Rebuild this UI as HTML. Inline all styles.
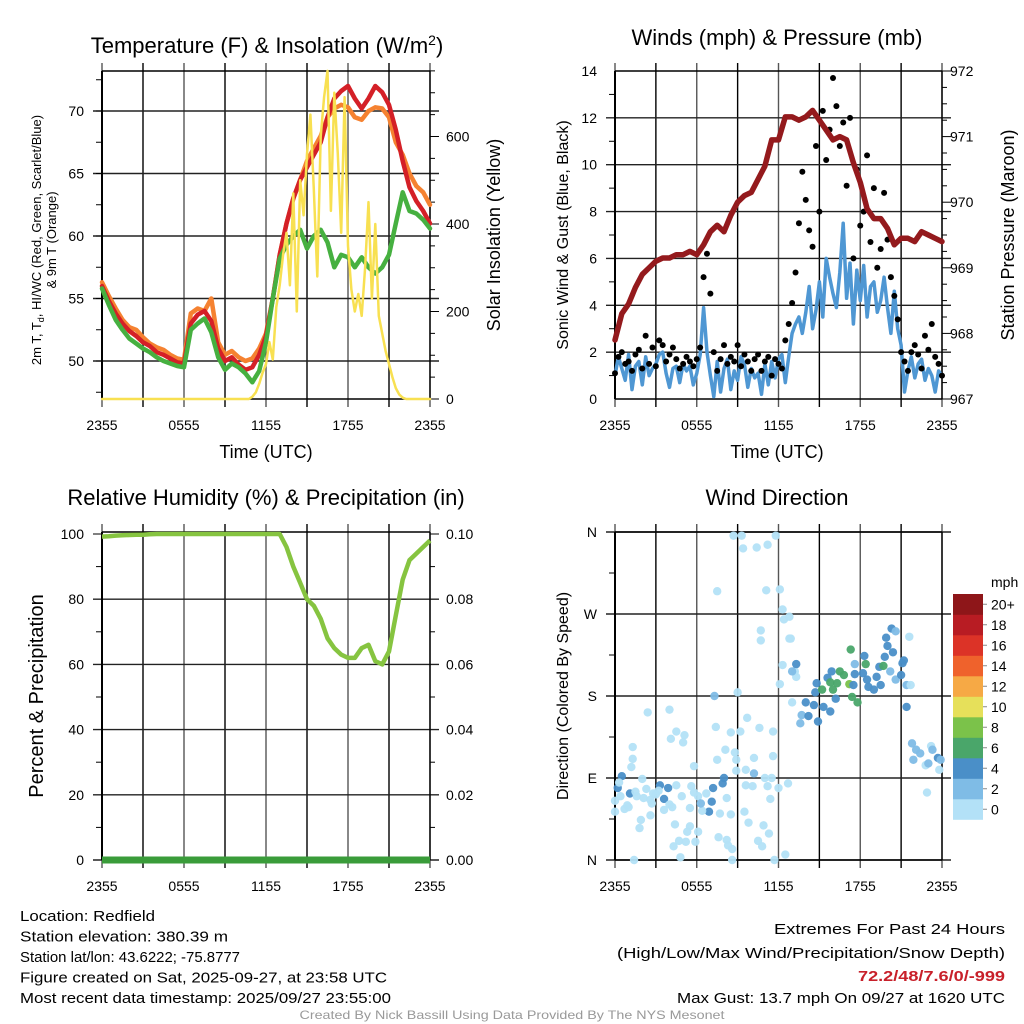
<!DOCTYPE html>
<html><head><meta charset="utf-8"><style>
body{margin:0;background:#fff}
svg{display:block;font-family:"Liberation Sans",sans-serif}
</style></head><body>
<svg id="c" width="1024" height="1024" xmlns="http://www.w3.org/2000/svg">
<rect width="1024" height="1024" fill="#fff"/>
<g id="g"></g>
</svg>
<script>
// ---- data (time step implied by array length over 24h) ----
const xTickLabels = ["2355","0555","1155","1755","2355"];
const tempTicks = [50,55,60,65,70];
const solarTicks = [0,200,400,600];
const windTicks = [0,2,4,6,8,10,12,14];
const presTicks = [967,968,969,970,971,972];
const rhTicks = [0,20,40,60,80,100];
const precipTicks = ["0.00","0.02","0.04","0.06","0.08","0.10"];
const dirTicks = ["N","E","S","W","N"];
const cbLabels = ["0","2","4","6","8","10","12","14","16","18","20+"];
const cbColors = ["#b3e1f7","#7fbce6","#4a8fc8","#4aa66a","#7bc24a","#e6e05a","#f6a945","#ef622c","#dc3327","#b81c23","#8e1619"];

const tempRed = [56,54.8,53.8,53,52.4,52,51.5,51.2,50.7,50.5,50.2,49.9,49.8,53,53.7,54,53.2,51,50,50.3,49.7,49.3,49.5,50.5,52,55,58.5,61,63,64.5,65.5,66.5,67.5,69.5,71,71.6,72,71,70.2,71,72,71.5,70.5,68.5,66,63.9,62.8,62,61];
const tempOrange = [56.3,55.2,54.2,53.3,52.7,52.5,51.9,51.4,51.1,50.9,50.5,50.2,50.1,53.8,54.2,54,55,51.5,50.5,50.8,50.3,50,50.2,51,52.2,55,58.5,61,63,64.5,66,67,68,69.5,70.2,70.5,70.3,69.5,69.3,70,70.3,70.2,69.5,67.5,66.5,65,64,63.5,62.5];
const tempGreen = [55.8,54.5,53.3,52.5,51.8,51.4,51,50.7,50.3,50,49.8,49.6,49.5,52.5,53,53.4,52.3,50.3,49.3,49.8,49.5,49,48.3,49.2,51.5,55,58.2,59.3,60,60.5,59,60,60.5,59.5,57.5,58.5,58.3,57.5,58.3,57.5,57,57.5,58.5,61,63.5,62,61.8,61.3,60.6];
const solar = [0,0,0,0,0,0,0,0,0,0,0,0,0,0,0,0,0,0,0,0,0,0,0,0,0,0,0,0,0,0,0,0,0,0,0,0,0,0,0,0,0,0,0,0,
 5,15,35,60,80,130,90,210,260,330,380,260,470,200,500,420,560,650,480,280,600,690,750,430,700,560,380,690,350,250,200,240,190,300,450,230,400,190,150,110,80,50,25,10,3,
 0,0,0,0,0,0,0,0];
const windSust = [1.0,1.8,1.3,0.8,1.9,0.4,1.4,1.6,0.6,1.8,1.0,1.3,1.5,
 1.9,2.0,1.1,0.5,1.3,1.4,0.7,1.5,1.2,1.4,0.6,
 1.1,1.9,3.9,2.0,1.0,0.1,1.6,0.3,1.3,1.7,0.4,1.2,
 0.8,1.8,1.5,0.5,1.3,0.9,1.1,0.2,1.5,0.6,1.6,0.9,
 1.7,1.9,0.7,1.8,2.8,3.2,3.5,2.8,3.7,4.8,3.0,3.8,
 5.0,3.5,6.0,5.2,4.5,3.9,5.4,7.5,4.3,5.8,3.2,5.5,
 4.2,5.7,3.5,4.8,5.0,3.7,4.2,5.2,3.9,2.8,4.6,3.0,
 2.3,0.3,1.2,1.8,0.9,1.5,1.7,0.8,1.3,1.0,0.3,1.2,1.0];
const windGust = [1.1,1.8,2.0,1.5,1.6,1.2,1.9,2.1,1.3,2.7,1.5,2.2,1.4,
 2.5,2.3,1.6,1.9,2.2,1.7,1.3,1.5,1.8,1.6,1.4,
 1.7,2.2,5.2,6.2,4.5,2.0,1.2,1.7,2.3,1.5,1.8,1.6,
 2.3,1.4,1.9,1.6,1.2,1.7,1.9,1.2,1.6,1.8,1.0,1.7,
 1.5,1.3,2.5,3.2,4.1,5.4,7.5,9.7,8.5,7.2,6.5,10.8,
 8.0,12.3,10.2,11.5,13.7,12.5,10.8,11.8,9.1,12.0,6.0,9.8,
 7.4,8.0,10.4,6.7,9.0,5.6,6.4,8.8,6.8,5.2,4.4,3.4,
 2.0,1.6,1.2,2.0,2.3,1.9,1.3,2.7,2.1,3.2,1.8,1.5,1.0];
const pressure = [967.9,968.3,968.45,968.7,968.9,969.0,969.1,969.15,969.15,969.2,969.2,969.25,969.2,969.35,969.55,969.65,969.55,969.8,970.0,970.1,970.15,970.35,970.55,970.95,970.95,971.3,971.3,971.25,971.3,971.4,971.25,971.1,970.95,971.0,970.95,970.6,970.3,969.9,969.75,969.75,969.6,969.35,969.45,969.45,969.4,969.55,969.5,969.45,969.4];
const rh = [99.2,99.3,99.5,99.6,99.7,99.8,99.8,99.9,100,100,100,100,100,100,100,100,100,100,100,100,100,100,100,100,100,100,100,96,90,85,80,78,74,68,65,63,62,62,65,66,61,60,64,75,86,92,94,96,98];
const precip = [0,0,0,0,0,0,0,0,0,0,0,0,0,0,0,0,0,0,0,0,0,0,0,0,0];
const dirHours = [
 8.7,9.3,11.8,9.4,10.4,11.2,7.5,11.1,12.1,12.3,
 12.4,12.8,10.7,10.7,12.8,12.9,12.3,13.2,13.3,12.1,
 9,7.3,13,2.4,4,4.5,5.1,4.1,5,7.4,
 8.5,9.2,9.7,10.6,11.6,1.3,1.3,1.2,8.1,8.8,
 7.5,8.9,10.2,11.6,5.8,8.9,9.6,10.2,11,11.5,
 12.7,9.6,10.1,11.2,12,11.4,8,7.9,0.5,0.2,
 1.1,3.3,3.9,3.6,7.1,6.9,7.2,0,0,0.4,
 0.7,1.6,2,2.3,2.7,2.6,1.9,1.8,2.8,3.6,
 4.2,4.5,4.9,5.5,5.6,6.1,6.4,6.7,7.7,8.2,
 8.5,9.5,9.8,10.9,11.3,4.4,5.5,6.1,5.3,4.7,
 4.3,5.2,5.9,7.6,8.2,8.3,8.6,10.5,10.8,4.8,
 1.4,8.6,11.7,12.5,13.3,14,13.7,13.6,14.2,14.6,
 14.9,14.7,14.8,15.3,15.8,15.6,15.9,16.2,16.3,16,
 15.8,15.2,16.5,16.8,17.2,17.3,17.4,17.8,17.5,17.6,
 18.3,18.4,18.2,18.5,18.6,19,19.4,19.2,19.5,19.7,
 19.8,19.9,20,20.3,20.4,20.6,20.2,20.6,21,21.1,
 21.2,21.4,21.6,21.7,21.4,17.6,13,21.8,22.1,22.4,
 21.9,22.8,23.2,23.3,23.7,23.9,23.8,23,22.9,0.9,
 1.5,2.1,3.0,0.3,1.0,2.6,3.2,6.3,5.8,4.0];
const dirDegs = [
 356,356,356,342,343,346,295,296,297,275,
 264,267,252,241,243,243,214,207,201,193,
 184,180,173,162,165,141,137,133,129,146,
 140,141,156,145,141,124,111,102,121,118,
 110,110,112,114,103,98,99,95,90,90,
 84,82,81,81,79,67,90,84,92,79,
 73,82,79,67,64,53,79,65,53,70,
 56,70,89,78,62,49,44,35,73,55,
 58,82,70,57,81,70,54,73,51,68,
 50,53,41,38,29,39,37,31,31,21,
 15,20,20,25,22,16,12,21,15,3,
 0,0,0,6,215,173,159,150,158,170,
 152,184,194,168,163,200,207,177,194,187,
 195,187,207,203,193,231,179,173,192,204,
 224,215,205,198,190,187,212,201,192,213,
 223,244,235,254,228,251,207,198,203,216,
 219,192,245,192,168,215,207,128,121,117,
 110,104,125,121,112,110,99,106,74,60,
 75,68,72,85,58,66,76,62,74,61];
const dirSpeeds = [
 1,1,1,1,1,1,1,1,1,1,
 1,1,1,1,1,1,1,1,1,1,
 1,3,1,1,1,1,1,1,1,1,
 1,1,1,1,1,1,1,1,1,1,
 1,1,1,1,1,1,1,3,1,1,
 1,1,1,1,1,1,4.5,4.5,4.5,4.5,
 4.5,4.5,4.5,4.5,4.5,4.5,4.5,1,1,1,
 1,1,1,1,1,1,1,1,1,1,
 1,1,1,1,1,1,1,1,1,1,
 1,1,1,1,1,1,1,1,1,1,
 1,1,1,1,1,1,1,1,1,1,
 1,1,1,1,4.5,4.5,2.5,2.5,4.5,4.5,
 4.5,4.5,4.5,4.5,4.5,4.5,4.5,4.5,6.5,6.5,
 6.5,6.5,6.5,6.5,8.5,6.5,6.5,6.5,4.5,4.5,
 4.5,6.5,4.5,4.5,4.5,4.5,4.5,4.5,4.5,6.5,
 4.5,4.5,4.5,4.5,4.5,2.5,2.5,2.5,4.5,4.5,
 4.5,2.5,1,1,4.5,2.5,2.5,2.5,2.5,2.5,
 2.5,1,1,2.5,4.5,2.5,1,2.5,1,1,
 1,1,1,1,1,1,1,2.5,1,1];

// ---- drawing ----
const NS="http://www.w3.org/2000/svg";
const G=document.getElementById('g');
function el(tag,attrs,parent,text){const e=document.createElementNS(NS,tag);for(const k in attrs)e.setAttribute(k,attrs[k]);if(text!==undefined)e.textContent=text;(parent||G).appendChild(e);return e;}
function lin(d0,d1,r0,r1){return v=>r0+(v-d0)/(d1-d0)*(r1-r0);}
function pathFrom(arr,xs,ys){const n=arr.length;let d="";arr.forEach((v,i)=>{d+=(i?"L":"M")+xs(i*24/(n-1)).toFixed(1)+","+ys(v).toFixed(1);});return d;}

const panels={
 temp:{x0:102,x1:430,y0:71,y1:399},
 wind:{x0:615,x1:942,y0:71,y1:399},
 rh:{x0:102,x1:430,y0:532,y1:860},
 dir:{x0:615,x1:942,y0:532,y1:860}
};
function frame(p,name,hTicksY){
 const g=el('g',{},G);
 
 
 for(let i=0;i<=8;i++){const x=p.x0+(p.x1-p.x0)*i/8;el('line',{x1:x,x2:x,y1:p.y0-8,y2:p.y1+8,stroke:i%2?'#000':'#555','stroke-width':1.4},g);}
 hTicksY.forEach(y=>el('line',{x1:p.x0-9,x2:p.x1+9,y1:y,y2:y,stroke:'#222','stroke-width':1.4},g));
 el('line',{x1:p.x0,x2:p.x0,y1:p.y0,y2:p.y1,stroke:'#000','stroke-width':2},g);
 el('line',{x1:p.x1,x2:p.x1,y1:p.y0,y2:p.y1,stroke:'#000','stroke-width':1.4},g);
 el('line',{x1:p.x0,x2:p.x1,y1:p.y0,y2:p.y0,stroke:'#000','stroke-width':1.4},g);
 el('line',{x1:p.x0,x2:p.x1,y1:p.y1,y2:p.y1,stroke:'#000','stroke-width':1.4},g);
 const tl=el('g',{'font-size':14,'text-anchor':'middle'},G);
 
 
 xTickLabels.forEach((t,i)=>el('text',{x:p.x0+(p.x1-p.x0)*i/4,y:p.y1+31},tl,t));
}
function txt(x,y,s,size,name,extra){const t=el('text',Object.assign({x:x,y:y,'font-size':size,'text-anchor':'middle'},extra||{}),G,s);return t;}

// Panel 1
(function(){
 const p=panels.temp;const xs=lin(0,24,p.x0,p.x1);
 const yT=lin(50,70,361,111);const yS=lin(0,600,399,136.5);
 frame(p,'temp',tempTicks.map(yT));
 tempTicks.forEach(v=>txt(84,yT(v)+5,String(v),14,'temp-tick',{'text-anchor':'end'}));
 solarTicks.forEach(v=>txt(446,yS(v)+5,String(v),14,'solar-tick',{'text-anchor':'start'}));
 for(let v=47.5;v<73;v+=2.5){el('line',{x1:p.x0-6,x2:p.x0,y1:yT(v),y2:yT(v),stroke:'#000'});}
 for(let v=0;v<=750;v+=50){el('line',{x1:p.x1,x2:p.x1+(v%200?5:9),y1:yS(v),y2:yS(v),stroke:'#000'});}
 const add=(arr,ys,col,w,name)=>{const e=el('path',{d:pathFrom(arr,xs,ys),fill:'none',stroke:col,'stroke-width':w,'stroke-linejoin':'round','stroke-linecap':'round'});};
 add(tempOrange,yT,'#f58231',4.5,'temp-9m-line');
 add(tempRed,yT,'#d42027',4.5,'temp-2m-line');
 add(tempGreen,yT,'#46b040',4.5,'dewpoint-line');
 add(solar,yS,'#f8e051',2.5,'solar-line');
 const tt=txt(267,53,'Temperature (F) & Insolation (W/m',22,'temp-title');
 el('tspan',{dy:-8,'font-size':14},tt,'2');
 el('tspan',{dy:8},tt,')');
 txt(266,458,'Time (UTC)',18,'temp-x-title');
 txt(500,235,'Solar Insolation (Yellow)',18,'solar-y-title',{transform:'rotate(-90 500 235)'});
 const yl=el('text',{x:41,y:240,'font-size':13,'text-anchor':'middle',transform:'rotate(-90 41 240)'},G);
 
 el('tspan',{},yl,'2m T, T');el('tspan',{dy:3,'font-size':9},yl,'d');el('tspan',{dy:-3},yl,', HI/WC (Red, Green, Scarlet/Blue)');
 txt(56,240,'& 9m T (Orange)',13,'temp-y-title-2',{transform:'rotate(-90 56 240)'});
})();

// Panel 2
(function(){
 const p=panels.wind;const xs=lin(0,24,p.x0,p.x1);
 const yW=lin(0,14,399,71);const yP=lin(967,972,399,71);
 frame(p,'wind',windTicks.slice(1,7).map(yW));
 windTicks.forEach(v=>txt(597,yW(v)+5,String(v),14,'wind-tick',{'text-anchor':'end'}));
 presTicks.forEach(v=>txt(950,yP(v)+5,String(v),14,'pressure-tick',{'text-anchor':'start'}));
 for(let v=1;v<14;v+=2){el('line',{x1:p.x0-6,x2:p.x0,y1:yW(v),y2:yW(v),stroke:'#000'});}
 for(let v=967;v<=972.01;v+=0.25){el('line',{x1:p.x1,x2:p.x1+(Math.abs(v-Math.round(v))<0.01?9:5),y1:yP(v),y2:yP(v),stroke:'#000'});}
 const b=el('path',{d:pathFrom(windSust,xs,yW),fill:'none',stroke:'#4f97d3','stroke-width':3.5,'stroke-linejoin':'round'});
 
 const n=windGust.length;
 windGust.forEach((v,i)=>{const c=el('circle',{cx:xs(i*24/(n-1)),cy:yW(v),r:3,fill:'#000'});
  
  });
 const pr=el('path',{d:pathFrom(pressure,xs,yP),fill:'none',stroke:'#941a1d','stroke-width':5.5,'stroke-linejoin':'round','stroke-linecap':'round'});
 
 txt(777,45,'Winds (mph) & Pressure (mb)',22,'wind-title');
 txt(777,458,'Time (UTC)',18,'wind-x-title');
 txt(568,235,'Sonic Wind & Gust (Blue, Black)',16,'wind-y-title',{transform:'rotate(-90 568 235)'});
 txt(1014,235,'Station Pressure (Maroon)',18,'pressure-y-title',{transform:'rotate(-90 1014 235)'});
})();

// Panel 3
(function(){
 const p=panels.rh;const xs=lin(0,24,p.x0,p.x1);
 const yR=lin(0,100,860,534);const yPr=lin(0,0.1,860,534);
 frame(p,'rh',rhTicks.slice(0,5).map(yR));
 rhTicks.forEach(v=>txt(84,yR(v)+5,String(v),14,'rh-tick',{'text-anchor':'end'}));
 precipTicks.forEach((s,i)=>txt(446,yR(rhTicks[i])+5,s,14,'precip-tick',{'text-anchor':'start'}));
 for(let v=10;v<100;v+=20){el('line',{x1:p.x0-6,x2:p.x0,y1:yR(v),y2:yR(v),stroke:'#000'});el('line',{x1:p.x1,x2:p.x1+5,y1:yR(v),y2:yR(v),stroke:'#000'});}
 el('line',{x1:p.x0-9,x2:p.x0,y1:yR(100),y2:yR(100),stroke:'#000'});
 el('line',{x1:p.x1,x2:p.x1+9,y1:yR(100),y2:yR(100),stroke:'#000'});
 const r=el('path',{d:pathFrom(rh,xs,yR),fill:'none',stroke:'#86c440','stroke-width':4.5,'stroke-linejoin':'round'});
 
 const pc=el('path',{d:pathFrom(precip,xs,yPr),fill:'none',stroke:'#3a9c3a','stroke-width':7});
 
 txt(266,505,'Relative Humidity (%) & Precipitation (in)',22,'rh-title');
 txt(43,696,'Percent & Precipitation',20,'rh-y-title',{transform:'rotate(-90 43 696)'});
})();

// Panel 4
(function(){
 const p=panels.dir;const xs=lin(0,24,p.x0,p.x1);const yD=lin(0,360,860,532);
 frame(p,'dir',[0,90,180,270,360].map(yD));
 dirTicks.forEach((s,i)=>txt(597,yD(i*90)+5,s,14,'dir-tick',{'text-anchor':'end'}));
 for(let v=45;v<360;v+=90){el('line',{x1:p.x0-6,x2:p.x0,y1:yD(v),y2:yD(v),stroke:'#000'});}
 dirHours.forEach((h,i)=>{const sp=dirSpeeds[i]||0;const ci=Math.min(10,Math.floor(sp/2));
  const c=el('circle',{cx:xs(h),cy:yD(dirDegs[i]),r:4.2,fill:cbColors[ci],'fill-opacity':0.95});
  
  });
 txt(777,505,'Wind Direction',22,'dir-title');
 txt(568,696,'Direction (Colored By Speed)',16,'dir-y-title',{transform:'rotate(-90 568 696)'});
 const cb=el('g',{},G);
 const bh=20.5,top=594;
 cbColors.forEach((c,i)=>{const y=top+(10-i)*bh;el('rect',{x:953,y:y,width:30,height:bh+0.3,fill:c},cb);
  el('line',{x1:983,x2:987,y1:y+bh/2,y2:y+bh/2,stroke:'#888'},cb);
  el('text',{x:991,y:y+bh/2+5,'font-size':14},cb,cbLabels[i]);});
 el('text',{x:991,y:587,'font-size':14},cb,'mph');
})();

// Footer text
const L=["Location: Redfield","Station elevation: 380.39 m","Station lat/lon: 43.6222; -75.8777","Figure created on Sat, 2025-09-27, at 23:58 UTC","Most recent data timestamp: 2025/09/27 23:55:00"];
const LW=[135,208,220,367,371];
L.forEach((s,i)=>{const t=el('text',{x:20,y:921+i*20.5,'font-size':15,textLength:LW[i],lengthAdjust:'spacingAndGlyphs'},G,s);});
const R=[["Extremes For Past 24 Hours",231,934,'#000','normal'],["(High/Low/Max Wind/Precipitation/Snow Depth)",388,958,'#000','normal'],["72.2/48/7.6/0/-999",147,981,'#c8202a','bold'],["Max Gust: 13.7 mph On 09/27 at 1620 UTC",328,1003,'#000','normal']];
R.forEach(r=>{const t=el('text',{x:1005-r[1],y:r[2],'font-size':15,fill:r[3],'font-weight':r[4],textLength:r[1],lengthAdjust:'spacingAndGlyphs'},G,r[0]);});
const f=el('text',{x:512,y:1019,'font-size':12,fill:'#999','text-anchor':'middle',textLength:425,lengthAdjust:'spacingAndGlyphs'},G,'Created By Nick Bassill Using Data Provided By The NYS Mesonet');

</script>
</body></html>
